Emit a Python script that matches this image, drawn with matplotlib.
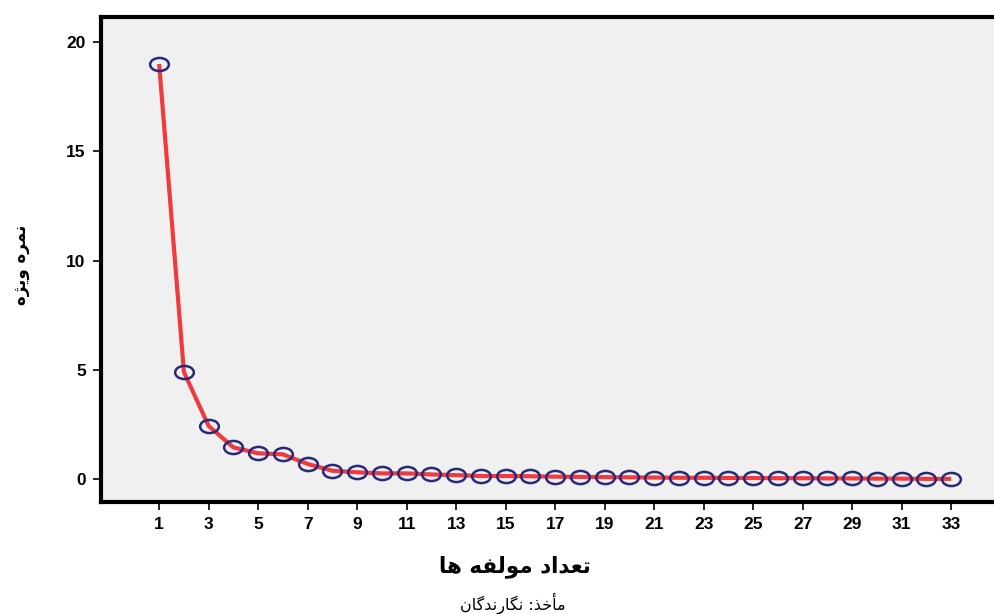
import matplotlib
matplotlib.use('Agg')
import matplotlib.pyplot as plt
from matplotlib.path import Path
import numpy as np

# scree plot data
components = list(range(1, 34))
eigenvalues = [19.0, 4.90, 2.43, 1.45, 1.18, 1.13, 0.69, 0.38, 0.31, 0.26,
               0.26, 0.21, 0.18, 0.14, 0.14, 0.13, 0.11, 0.10, 0.09, 0.08,
               0.07, 0.06, 0.06, 0.05, 0.05, 0.04, 0.04, 0.03, 0.03, 0.02,
               0.02, 0.01, 0.01]
xticks = list(range(1, 34, 2))
yticks = [0, 5, 10, 15, 20]

# Persian labels, written in presentation forms (visual order) since matplotlib has no shaping
xlabel_fa = '\uFE8E\uFEEB \uFEEA\uFED4\uFEDF\uFEEE\uFEE3 \uFEA9\uFE8D\uFEAA\uFECC\uFE97'   # تعداد مولفه ها
ylabel_fa = '\uFEE9\uFB8B\uFBFE\uFEED \uFEE9\uFEAE\uFEE4\uFEE7'                          # نمره ویژه
source_fa = '\uFEE5\uFE8E\uFB94\uFEAA\uFEE7\uFEAD\uFE8E\uFB95\uFEE7 :\uFEAC\uFEA7\uFE84\uFEE3'  # مأخذ: نگارندگان

C_LINE = '#f03a3f'
C_MARK = '#262a78'

# ellipse-shaped open marker
circ = Path.unit_circle()
ellipse = Path(circ.vertices * np.array([1.0, 0.70]), circ.codes)

fig = plt.figure(figsize=(9.95, 6.14), dpi=100)
ax = fig.add_axes([0.1015, 0.1824, 0.9005, 0.7899])
ax.set_facecolor('#f0f0f0')

ax.plot(components, eigenvalues, color=C_LINE, linewidth=3.0, solid_capstyle='butt',
        marker=ellipse, markersize=13.5, markerfacecolor='none',
        markeredgecolor=C_MARK, markeredgewidth=1.8, zorder=3)

ax.set_xlim(-1.35, 34.85)
ax.set_ylim(-1.05, 21.15)
ax.set_xticks(xticks)
ax.set_yticks(yticks)
for lbl in ax.get_xticklabels() + ax.get_yticklabels():
    lbl.set_fontfamily('Liberation Sans')
    lbl.set_fontweight('bold')
    lbl.set_fontsize(12.5)
ax.tick_params(axis='both', direction='out', length=6, width=1.2, color='black', pad=5)

for side in ['left', 'top', 'bottom']:
    ax.spines[side].set_linewidth(3)
    ax.spines[side].set_color('black')
ax.spines['right'].set_visible(False)

fig.text(0.518, 0.077, xlabel_fa, ha='center', va='center', fontsize=15.5,
         fontweight='bold', family=['DejaVu Sans'])
fig.text(0.021, 0.568, ylabel_fa, ha='center', va='center', fontsize=12,
         fontweight='bold', rotation=90, family=['DejaVu Sans'])
fig.text(0.515, 0.018, source_fa, ha='center', va='center', fontsize=11.5,
         family=['DejaVu Sans'])

plt.savefig('out.png', dpi=100)
plt.close()
